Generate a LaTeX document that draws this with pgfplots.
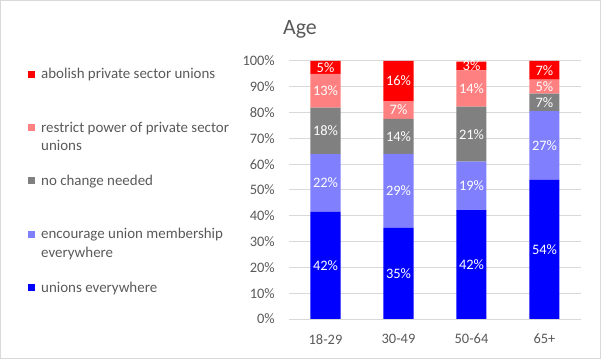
\documentclass[border=0pt]{standalone}
\usepackage{pgfplots}
\usepackage{pgfplotstable}
\pgfplotsset{compat=1.18}
\usepackage{fontspec}
\setmainfont{Carlito}
\definecolor{cRed}{HTML}{FF0000}
\definecolor{cPink}{HTML}{FF8080}
\definecolor{cGray}{HTML}{808080}
\definecolor{cLBlue}{HTML}{8080FF}
\definecolor{cBlue}{HTML}{0000FF}
\definecolor{txtGray}{HTML}{595959}
\definecolor{lineGray}{HTML}{D9D9D9}

\pgfplotstableread{
x unions encourage nochange restrict abolish
0 41.6 22.3 18.0 13.1 5.0
1 35.3 28.7 13.6 6.8 15.6
2 42.2 18.8 21.3 14.1 3.4
3 53.9 26.7 6.8 5.4 7.2
}\agedata

\newcommand{\secondline}[1]{\makebox[0pt][l]{\raisebox{-18.5bp}[0pt][0pt]{#1}}}

\begin{document}
\begin{tikzpicture}
\path[use as bounding box] (0,0) rectangle (601bp,359bp);
\draw[color=lineGray, line width=1bp] (0.5bp,0.5bp) rectangle (600.5bp,358.5bp);
\node[anchor=base, text=txtGray, font=\fontsize{22}{26}\selectfont, inner sep=0pt] at (300bp,324.7bp) {Age};
\begin{axis}[
  at={(289bp,40bp)}, anchor=south west,
  scale only axis, width=292bp, height=258bp,
  ybar stacked, bar width=30bp,
  xmin=-0.5, xmax=3.5, ymin=0, ymax=100,
  xtick={0,1,2,3}, xticklabels={18-29,30-49,50-64,65+},
  ytick={0,10,...,100},
  yticklabel={\pgfmathprintnumber{\tick}\%},
  /pgf/number format/assume math mode=true,
  ymajorgrids, grid style={color=lineGray, line width=1bp},
  axis x line*=bottom, axis y line*=left,
  x axis line style={color=lineGray, line width=1bp, -},
  y axis line style={draw=none},
  major tick length=0pt,
  tick label style={text=txtGray, font=\fontsize{14.5}{17}\selectfont, inner sep=0pt},
  yticklabel style={xshift=-14bp},
  xticklabel style={yshift=-15bp},
  clip=true,
  nodes near coords={\pgfmathprintnumber[fixed,precision=0]{\pgfplotspointmeta}\%},
  every node near coord/.append style={anchor=center, text=white, font=\fontsize{14.5}{17}\selectfont, inner sep=0pt},
  reverse legend,
  legend image code/.code={\fill[#1] (-2bp,-3.5bp) rectangle (5bp,3.5bp);},
  legend style={draw=none, fill=none, at={(-0.8938,0.5349)}, anchor=west,
    inner sep=0pt, row sep=41.5bp, column sep=6bp,
    font=\fontsize{15}{18}\selectfont, text=txtGray,
    nodes={inner sep=0pt}},
  legend cell align=left,
]
\addplot[fill=cBlue, draw=none] table[x=x, y=unions] {\agedata};
\addlegendentry{unions everywhere}
\addplot[fill=cLBlue, draw=none] table[x=x, y=encourage] {\agedata};
\addlegendentry{\secondline{everywhere}encourage union membership}
\addplot[fill=cGray, draw=none] table[x=x, y=nochange] {\agedata};
\addlegendentry{no change needed}
\addplot[fill=cPink, draw=none] table[x=x, y=restrict] {\agedata};
\addlegendentry{\secondline{unions}restrict power of private sector}
\addplot[fill=cRed, draw=none] table[x=x, y=abolish] {\agedata};
\addlegendentry{abolish private sector unions}
\end{axis}
\end{tikzpicture}
\end{document}
